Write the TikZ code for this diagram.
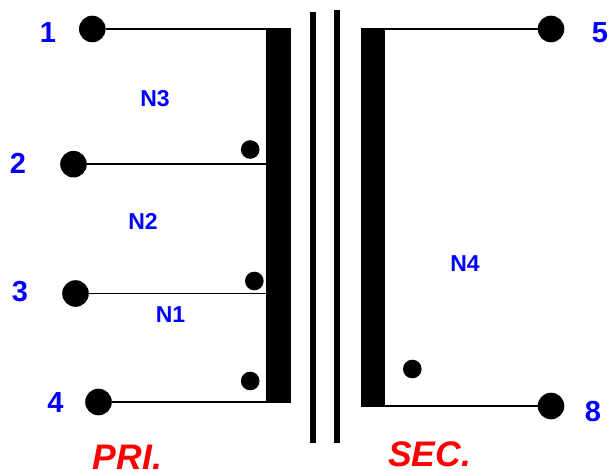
\documentclass[tikz,border=0pt]{standalone}
\usepackage{fontspec}
\setmainfont{Liberation Sans}
\tikzset{
  x=1pt,y=-1pt,
  terminal/.style={circle,fill=black,inner sep=0pt,minimum size=26.6pt},
  polarity/.style={circle,fill=black,inner sep=0pt,minimum size=18.6pt},
  winding/.style={fill=black,inner sep=0pt,outer sep=0pt,rectangle},
  pin/.style={text=blue,font=\fontsize{29}{29}\selectfont\bfseries,inner sep=0pt},
  turns/.style={text=blue,font=\fontsize{23}{23}\selectfont\bfseries,inner sep=0pt},
  side/.style={text=red,font=\fontsize{35.5}{36}\selectfont\bfseries\itshape,inner sep=0pt,anchor=base},
  lead/.style={draw=black,line width=1.7pt},
}
\begin{document}
\begin{tikzpicture}
\useasboundingbox (0,0) rectangle (609,470);
% windings
\node[winding,minimum width=25pt,minimum height=375pt] (barL) at (278.5,215.5) {};
\node[winding,minimum width=24.5pt,minimum height=379pt] (barR) at (373.2,217.5) {};
% core
\node[winding,minimum width=6pt,minimum height=431pt] (core1) at (313,227.5) {};
\node[winding,minimum width=6pt,minimum height=433pt] (core2) at (336.5,226.5) {};
% terminals
\node[terminal] (t1) at (92.3,29) {};
\node[terminal] (t2) at (73.5,164.2) {};
\node[terminal] (t3) at (75.5,293.5) {};
\node[terminal] (t4) at (98.5,402) {};
\node[terminal] (t5) at (551,29) {};
\node[terminal] (t8) at (551,406) {};
% leads
\draw[lead] (t1) -- (t1 -| barL.east);
\draw[lead] (t2) -- (t2 -| barL.west);
\draw[lead] (t3) -- (t3 -| barL.west);
\draw[lead] (t4) -- (t4 -| barL.west);
\draw[lead] (t5) -- (t5 -| barR.west);
\draw[lead] (t8) -- (t8 -| barR.west);
% polarity dots
\node[polarity] (d1) at (250.2,149.5) {};
\node[polarity] (d2) at (254.3,281) {};
\node[polarity] (d3) at (250.2,381) {};
\node[polarity] (d4) at (412.3,369) {};
% pin labels
\node[pin] (l1) at (48,32.5) {1};
\node[pin] (l2) at (18,163.5) {2};
\node[pin] (l3) at (20,291.5) {3};
\node[pin] (l4) at (55.5,402.5) {4};
\node[pin] (l5) at (600,32.5) {5};
\node[pin] (l8) at (593,412) {8};
% turn labels
\node[turns] (n3) at (155,98.5) {N3};
\node[turns] (n2) at (143,221) {N2};
\node[turns] (n1) at (170.5,314.5) {N1};
\node[turns] (n4) at (465,263.5) {N4};
% side labels
\node[side] (pri) at (127.5,469) {PRI.};
\node[side] (sec) at (429.5,466.5) {SEC.};
\end{tikzpicture}
\end{document}
